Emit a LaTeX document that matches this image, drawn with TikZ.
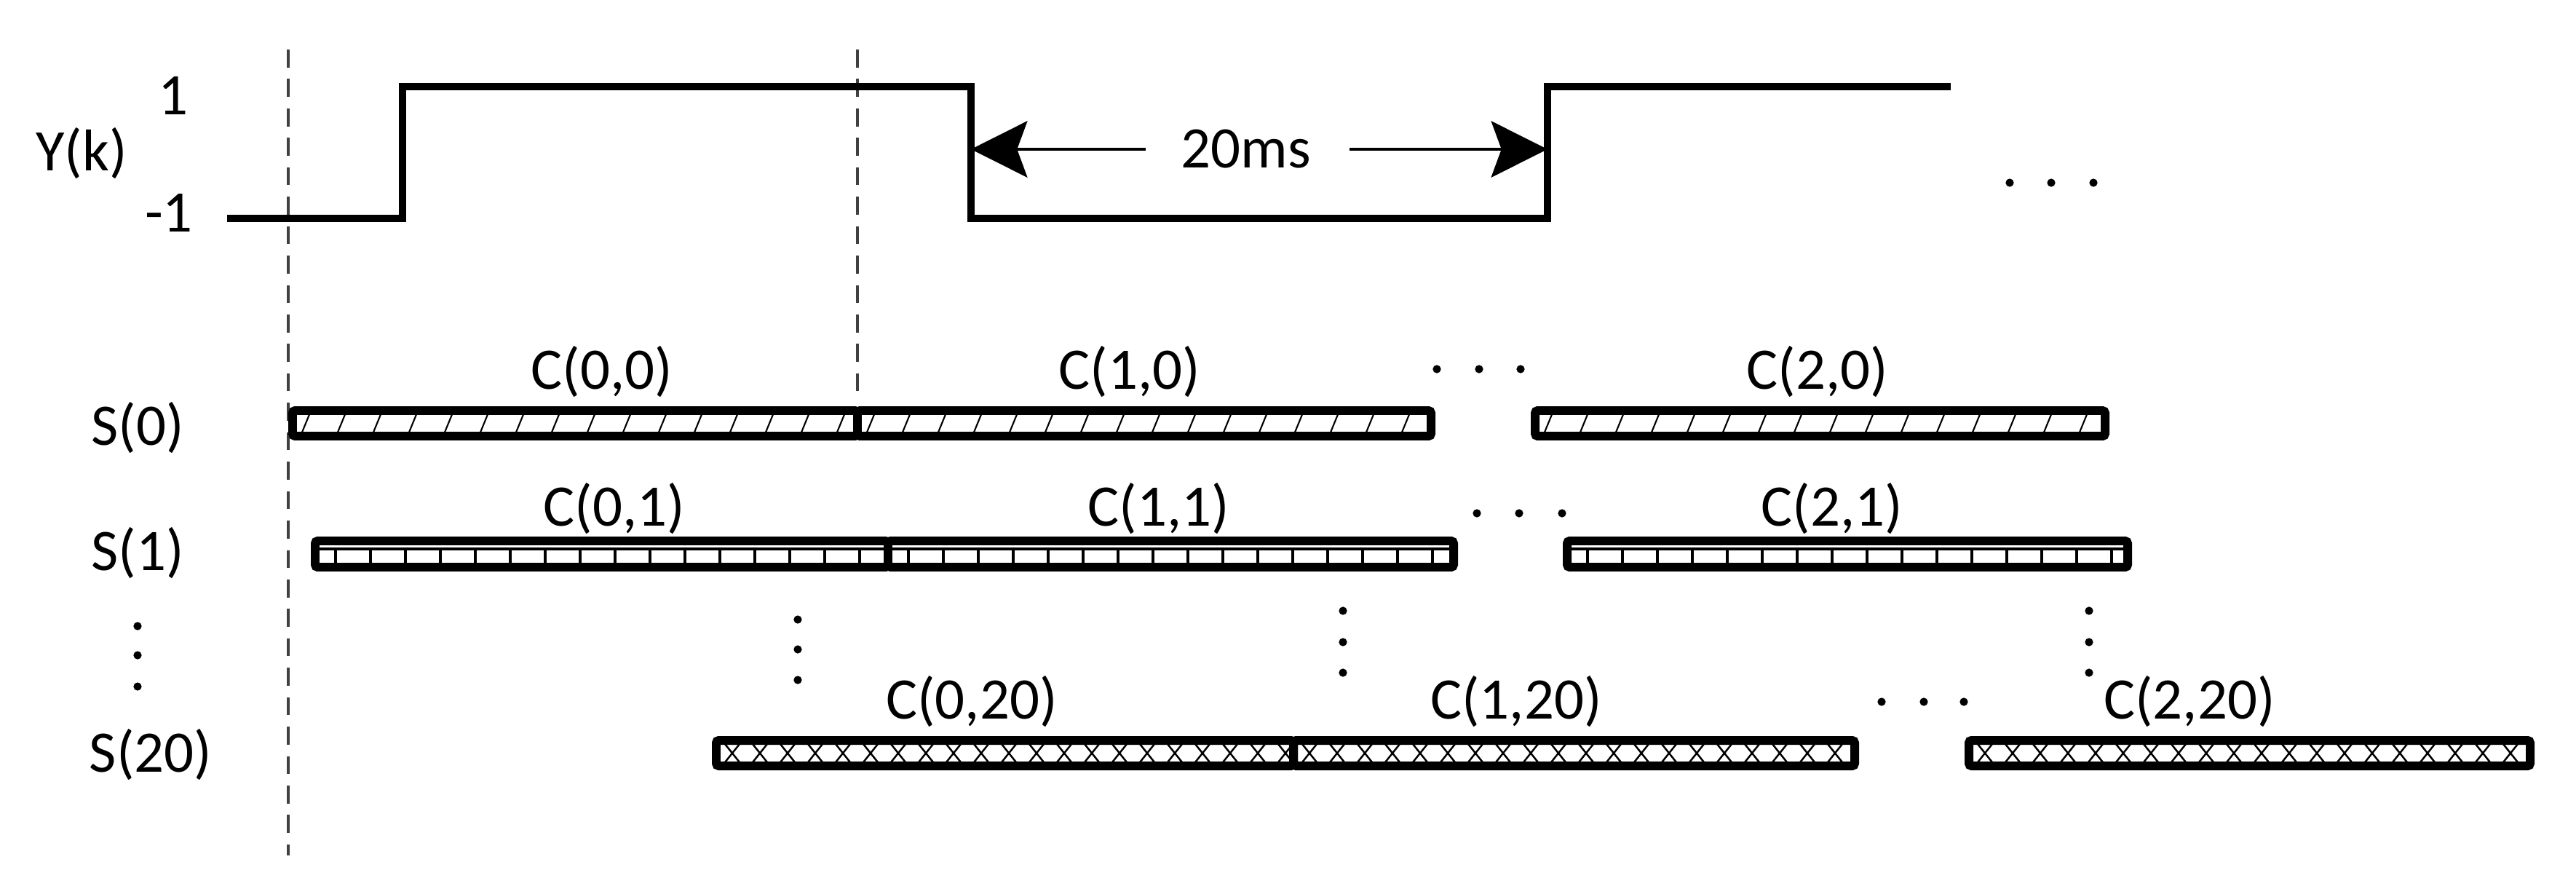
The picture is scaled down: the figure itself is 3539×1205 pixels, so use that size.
\documentclass[tikz,border=0pt]{standalone}
\usepackage{fontspec}
\setmainfont{Carlito}
\usetikzlibrary{arrows.meta}
\begin{document}
\begin{tikzpicture}[x=0.01cm,y=-0.01cm,
  lab/.style={font=\fontsize{23}{28}\selectfont,inner sep=0pt},
  wave/.style={line width=2.9pt,line join=miter},
  guide/.style={line width=0.9pt,draw=black!75,dash pattern=on 7pt off 4.5pt},
  border/.style={line width=3.4pt,rounded corners=1pt},
  thin/.style={line width=0.6pt},
  dim/.style={line width=1.2pt,-{Stealth[length=22pt,width=22pt,inset=4pt]}}]
\useasboundingbox (0,0) rectangle (3539,1205);
% guides
\draw[guide] (396,68) -- (396,1175);
\draw[guide] (1178,68) -- (1178,553);
% waveform
\coordinate (w0) at (312,300);
\coordinate (fallT) at (1334,119);
\coordinate (fallB) at (1334,300);
\coordinate (riseB) at (2126,300);
\coordinate (riseT) at (2126,119);
\draw[wave] (w0) -- (553,300) -- (553,119) -- (fallT) -- (fallB) -- (riseB) -- (riseT) -- (2680,119);
\node[lab] (one) at (238,131) {1};
\node[lab] (mone) at (232,292) {-1};
\node[lab] (yk) at (112,211) {Y(k)};
\node[lab] (ms) at (1712,205) {20ms};
\coordinate (fa) at (1334,205);
\coordinate (ra) at (2126,205);
\draw[dim] (ms.west) ++(-48,0) -- (fa);
\draw[dim] (ms.east) ++(52,0) -- (ra);
% dots
\foreach \x in {2761,2818,2876} \fill (\x,251) circle[radius=1.6pt];
\foreach \x in {1974,2032,2089} \fill (\x,507) circle[radius=1.6pt];
\foreach \x in {2029,2087,2146} \fill (\x,705) circle[radius=1.6pt];
\foreach \x in {2585,2643,2698} \fill (\x,964) circle[radius=1.6pt];
\foreach \y in {860,900,943} \fill (189,\y) circle[radius=1.6pt];
\foreach \y in {851,892,934} \fill (1096,\y) circle[radius=1.6pt];
\foreach \y in {839,882,924} {\fill (1845,\y) circle[radius=1.6pt]; \fill (2870,\y) circle[radius=1.6pt];}
% row labels
\node[lab] (s0) at (189,588) {S(0)};
\node[lab] (s1) at (189,760) {S(1)};
\node[lab] (s20) at (207,1037) {S(20)};
% row 0 bars
\foreach \a/\b in {402/1178,1178/1966,2109/2892}{
  \begin{scope}\clip (\a,564) rectangle (\b,599);
    \foreach \i in {0,...,17} \draw[thin] (\a+10+\i*49,601) -- (\a+26+\i*49,562);
  \end{scope}
  \draw[border] (\a,564) rectangle (\b,599);}
% row 1 bars
\foreach \a/\b in {433/1220,1220/1997,2153/2923}{
  \begin{scope}\clip (\a,743) rectangle (\b,779);
    \draw[line width=1pt] (\a,754) -- (\b,754);
    \foreach \i in {1,...,17} \draw[line width=1.1pt] (\a+\i*48-20,754) -- (\a+\i*48-20,780);
  \end{scope}
  \draw[border] (\a,743) rectangle (\b,779);}
% row 20 bars
\foreach \a/\b in {984/1777,1777/2548,2705/3476}{
  \begin{scope}\clip (\a,1017) rectangle (\b,1052);
    \foreach \i in {0,...,21} {\draw[line width=0.7pt] (\a+12+\i*38,1022) -- (\a+32+\i*38,1047);
      \draw[line width=0.7pt] (\a+32+\i*38,1022) -- (\a+12+\i*38,1047);}
  \end{scope}
  \draw[border] (\a,1017) rectangle (\b,1052);}
% bar labels
\node[lab] (c00) at (827,511) {C(0,0)};
\node[lab] (c10) at (1552,511) {C(1,0)};
\node[lab] (c20) at (2497,511) {C(2,0)};
\node[lab] (c01) at (844,699) {C(0,1)};
\node[lab] (c11) at (1592,699) {C(1,1)};
\node[lab] (c21) at (2517,699) {C(2,1)};
\node[lab] (c020) at (1335,964) {C(0,20)};
\node[lab] (c120) at (2083,964) {C(1,20)};
\node[lab] (c220) at (3008,964) {C(2,20)};
\end{tikzpicture}
\end{document}
